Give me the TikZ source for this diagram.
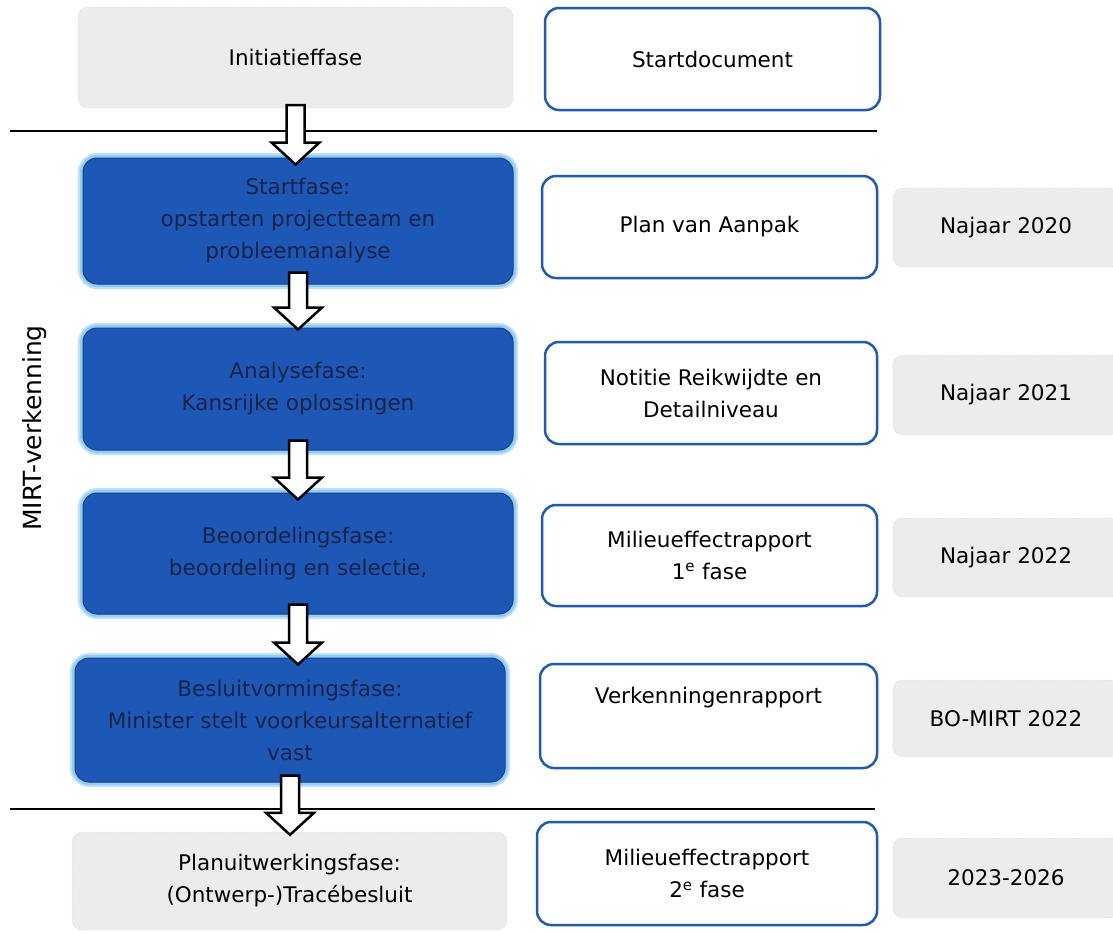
\documentclass[tikz,border=0pt]{standalone}
\usepackage{fontspec}
\setmainfont{DejaVu Sans}
\usepackage{tikz}
\usetikzlibrary{calc}
\usepackage{xcolor}

\definecolor{faseblauw}{RGB}{30,88,182}
\definecolor{faserand}{RGB}{22,62,140}
\definecolor{gloed}{RGB}{145,205,242}
\definecolor{fasetekst}{RGB}{25,35,72}
\definecolor{docblauw}{RGB}{30,90,182}
\definecolor{grijsvlak}{RGB}{236,236,236}

\tikzset{
  grijsbox/.style={draw=black!25, densely dotted, fill=grijsvlak, rounded corners=10pt,
    align=center, inner sep=0pt},
  fasebox/.style={fill=faseblauw, draw=faserand, line width=1pt, rounded corners=14pt,
    text=fasetekst, align=center, inner sep=0pt, minimum width=430pt,
    preaction={draw=gloed!60, line width=10pt}, preaction={draw=gloed, line width=6pt}},
  docbox/.style={draw=docblauw, line width=2.5pt, fill=white, rounded corners=14pt,
    align=center, inner sep=0pt},
  pijl/.style={draw=black, fill=white, line width=2.5pt, line join=miter},
}

% blokpijl van #1 naar #2
\newcommand{\blokpijl}[2]{%
  \draw[pijl] let \p1=(#1), \p2=(#2) in
    (\x1-9pt,\y1) -- (\x1-9pt,\y2+22pt) -- (\x1-24pt,\y2+22pt) -- (\x1,\y2)
    -- (\x1+24pt,\y2+22pt) -- (\x1+9pt,\y2+22pt) -- (\x1+9pt,\y1) -- cycle;}

\begin{document}
\begin{tikzpicture}[x=1pt, y=-1pt, every node/.style={font=\fontsize{21.5}{32}\selectfont}]
    \useasboundingbox (0,0) rectangle (1113,932);

    % linker kolom: fasen
    \node[grijsbox, minimum width=435pt, minimum height=101pt] (init) at (295.5,57.5) {Initiatieffase};
    \node[fasebox, minimum height=126pt] (start) at (298,221) {Startfase:\\opstarten projectteam en\\probleemanalyse};
    \node[fasebox, minimum height=122pt] (analyse) at (298,389) {Analysefase:\\Kansrijke oplossingen};
    \node[fasebox, minimum height=121pt] (beoord) at (298,553.5) {Beoordelingsfase:\\beoordeling en selectie,};
    \node[fasebox, minimum height=124pt] (besluit) at (290,720) {Besluitvormingsfase:\\Minister stelt voorkeursalternatief\\vast};
    \node[grijsbox, minimum width=435pt, minimum height=98pt] (planuitw) at (289.5,881) {Planuitwerkingsfase:\\(Ontwerp-)Tracébesluit};

    % middelste kolom: documenten
    \node[docbox, minimum width=335pt, minimum height=102pt] (startdoc) at (712.5,59) {Startdocument};
    \node[docbox, minimum width=335pt, minimum height=102pt] (pva) at (709.5,227) {Plan van Aanpak};
    \node[docbox, minimum width=332pt, minimum height=102pt] (nrd) at (711,393) {Notitie Reikwijdte en\\Detailniveau};
    \node[docbox, minimum width=335pt, minimum height=101pt] (mer1) at (709.5,555.5) {Milieueffectrapport\\1\textsuperscript{e} fase};
    \node[docbox, minimum width=337pt, minimum height=104pt] (verk) at (708.5,716) {Verkenningenrapport\\\strut};
    \node[docbox, minimum width=340pt, minimum height=103pt] (mer2) at (707,873.5) {Milieueffectrapport\\2\textsuperscript{e} fase};

    % rechter kolom: planning
    \node[grijsbox, minimum width=226pt, minimum height=79pt] (nj20) at (1006,227.5) {Najaar 2020};
    \node[grijsbox, minimum width=226pt, minimum height=80pt] (nj21) at (1006,395) {Najaar 2021};
    \node[grijsbox, minimum width=226pt, minimum height=79pt] (nj22) at (1006,557.5) {Najaar 2022};
    \node[grijsbox, minimum width=226pt, minimum height=77pt] (bomirt) at (1006,718.5) {BO-MIRT 2022};
    \node[grijsbox, minimum width=226pt, minimum height=80pt] (jaren) at (1006,878) {2023-2026};

    % scheidingslijnen en label
    \coordinate (l1a) at (10,131);
    \coordinate (l1b) at (877,131);
    \coordinate (l2a) at (10,809);
    \coordinate (l2b) at (875,809);
    \draw[line width=2pt] (l1a) -- (l1b);
    \draw[line width=2pt] (l2a) -- (l2b);
    \node[rotate=90, font=\fontsize{25}{32}\selectfont] (mirt) at (35,428) {MIRT-verkenning};

    % pijlen tussen de fasen
    \blokpijl{[yshift=3pt]init.south}{[yshift=-7pt]start.north}
    \blokpijl{[yshift=12pt]start.south}{[yshift=-2pt]analyse.north}
    \blokpijl{[yshift=10pt]analyse.south}{[yshift=-7pt]beoord.north}
    \blokpijl{[yshift=10pt]beoord.south}{[yshift=-7pt]besluit.north}
    \blokpijl{[yshift=7pt]besluit.south}{[yshift=-3pt]planuitw.north}
\end{tikzpicture}
\end{document}
